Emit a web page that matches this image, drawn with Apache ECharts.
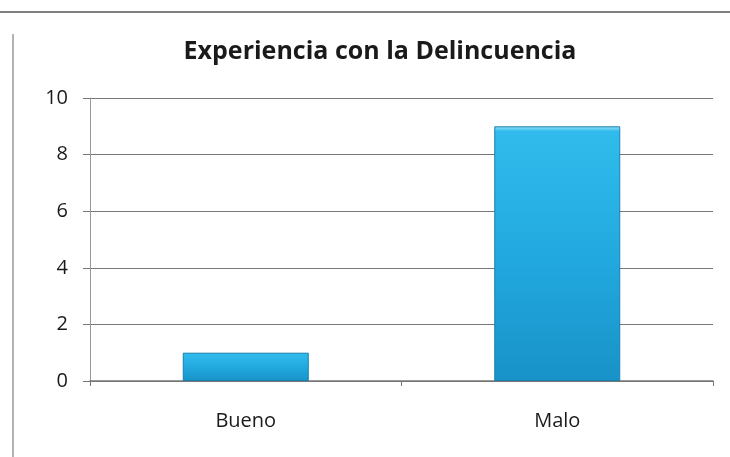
<!DOCTYPE html>
<html>
<head>
<meta charset="utf-8">
<script src="https://cdn.jsdelivr.net/npm/echarts@6/dist/echarts.min.js"></script>
<style>html,body{margin:0;padding:0;background:#fff;}#c{width:730px;height:457px;}</style>
</head>
<body>
<div id="c"></div>
<script>
const titleText = "Experiencia con la Delincuencia";
const categories = ["Bueno", "Malo"];
const values = [1, 9];
const yMin = 0, yMax = 10, yInterval = 2;

const chart = echarts.init(document.getElementById('c'));
chart.setOption({
  backgroundColor: '#ffffff',
  animation: false,
  title: {
    text: titleText,
    left: 375, top: 34, textAlign: 'center',
    textStyle: { fontFamily: 'Open Sans', fontWeight: 'bold', fontSize: 25, color: '#1a1a1a' }
  },
  graphic: [
    { type: 'line', shape: { x1: 0, y1: 12, x2: 730, y2: 12 }, style: { stroke: '#555', lineWidth: 1.5 } },
    { type: 'line', shape: { x1: 13, y1: 34, x2: 13, y2: 457 }, style: { stroke: '#999', lineWidth: 1.5 } }
  ],
  grid: { left: 90, right: 17, top: 98, bottom: 76 },
  xAxis: {
    type: 'category', data: categories,
    axisLine: { lineStyle: { color: '#777', width: 1.5 } },
    axisTick: { show: true, length: 5, lineStyle: { color: '#777' } },
    axisLabel: { fontFamily: 'Open Sans', fontSize: 20, color: '#1a1a1a', margin: 30 }
  },
  yAxis: {
    type: 'value', min: yMin, max: yMax, interval: yInterval,
    axisLine: { show: true, lineStyle: { color: '#999', width: 1 } },
    axisTick: { show: true, length: 7, lineStyle: { color: '#777' } },
    axisLabel: { fontFamily: 'Open Sans', fontSize: 20, color: '#1a1a1a', margin: 22 },
    splitLine: { lineStyle: { color: '#777', width: 1.2 } }
  },
  series: [{
    type: 'bar', data: values, barWidth: 126,
    itemStyle: {
      color: new echarts.graphic.LinearGradient(0, 0, 0, 1, [
        { offset: 0, color: '#9ae2f8' },
        { offset: 0.02, color: '#31bbec' },
        { offset: 0.5, color: '#22aae0' },
        { offset: 1, color: '#1892c8' }
      ]),
      borderColor: '#1a7fae', borderWidth: 1
    }
  }]
});
</script>
</body>
</html>
